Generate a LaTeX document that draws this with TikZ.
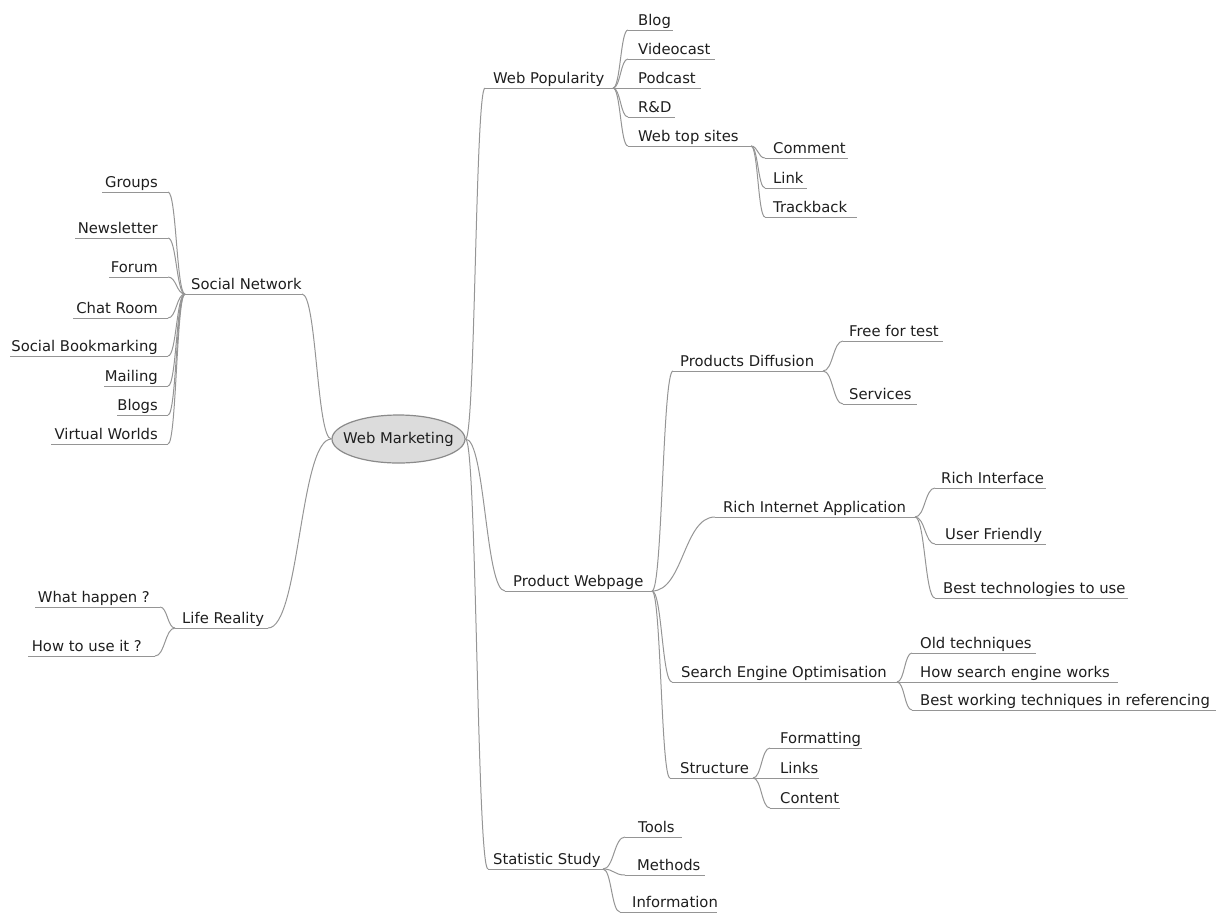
\documentclass[tikz,border=0pt]{standalone}
\usepackage{fontspec}
\setmainfont{DejaVu Sans}
\usetikzlibrary{shapes.geometric,calc}
\definecolor{linegray}{HTML}{959595}
\definecolor{txt}{HTML}{1E1E1E}
\definecolor{bubble}{HTML}{DCDCDC}
\definecolor{bubbleedge}{HTML}{8A8A8A}
\tikzset{
  lbl/.style={inner sep=0pt, text=txt, font=\fontsize{14.8}{17}\selectfont},
  conn/.style={draw=linegray, line width=1pt},
  central/.style={ellipse, draw=bubbleedge, fill=bubble, line width=1.2pt,
     minimum width=133pt, minimum height=48pt, inner xsep=-25pt, inner ysep=0pt, text=txt,
     font=\fontsize{14.8}{17}\selectfont}
}
% right-growing node: name, text, text-left x, underline y, underline left, underline right
\newcommand\mmR[6]{%
  \node[lbl,anchor=base west] (#1) at (#3,#4-5) {#2};
  \coordinate (#1-l) at (#5,#4);
  \coordinate (#1-r) at (#6,#4);
  \draw[conn] (#1-l) -- (#1-r);}
% left-growing node: name, text, text-right x, underline y, underline left, underline right
\newcommand\mmL[6]{%
  \node[lbl,anchor=base east] (#1) at (#3,#4-5) {#2};
  \coordinate (#1-l) at (#5,#4);
  \coordinate (#1-r) at (#6,#4);
  \draw[conn] (#1-l) -- (#1-r);}
\newcommand\mlink[2]{%
  \draw[conn] let \p1=(#1), \p2=(#2), \n1={(\x2-\x1)/2}, \n2={-(\x2-\x1)/2} in
    (#1) .. controls +(\n1,0) and +(\n2,0) .. (#2);}
\begin{document}
\begin{tikzpicture}[x=1pt,y=-1pt]
\useasboundingbox (0,0) rectangle (1230,914);
\node[central] (wm) at (398.5,439) {Web Marketing};

% Web Popularity
\mmR{wp}{Web Popularity}{493}{88}{485}{613}
\mmR{blog}{Blog}{638}{30}{628}{673}
\mmR{video}{Videocast}{638}{59}{628}{715}
\mmR{pod}{Podcast}{638}{88}{628}{701}
\mmR{rd}{R\&D}{638}{117}{628}{675}
\mmR{wts}{Web top sites}{638}{146}{628}{751}
\mmR{com}{Comment}{773}{158}{765}{848}
\mmR{lnk}{Link}{773}{188}{765}{807}
\mmR{trk}{Trackback}{773}{217}{765}{857}

% Social Network
\mmR{sn}{Social Network}{191}{294}{185}{302}
\mmL{grp}{Groups}{158}{192}{102}{168}
\mmL{news}{Newsletter}{158}{238}{75}{168}
\mmL{forum}{Forum}{158}{277}{109}{168}
\mmL{chat}{Chat Room}{158}{318}{73}{168}
\mmL{sbm}{Social Bookmarking}{158}{356}{10}{168}
\mmL{mail}{Mailing}{158}{386}{104}{168}
\mmL{blogs}{Blogs}{158}{415}{117}{168}
\mmL{vw}{Virtual Worlds}{158}{444}{51}{168}

% Life Reality
\mmR{lr}{Life Reality}{182}{628}{175}{268}
\mmL{wh}{What happen ?}{150}{607}{35}{160}
\mmL{hu}{How to use it ?}{142}{656}{28}{155}

% Product Webpage
\mmR{pw}{Product Webpage}{513}{591}{505}{652}
\mmR{pd}{Products Diffusion}{680}{371}{673}{823}
\mmR{fft}{Free for test}{849}{341}{843}{943}
\mmR{serv}{Services}{849}{404}{843}{917}
\mmR{ria}{Rich Internet Application}{723}{517}{715}{915}
\mmR{ri}{Rich Interface}{941}{488}{935}{1046}
\mmR{uf}{User Friendly}{945}{544}{935}{1046}
\mmR{bt}{Best technologies to use}{943}{598}{935}{1128}
\mmR{seo}{Search Engine Optimisation}{681}{682}{672}{897}
\mmR{ot}{Old techniques}{920}{653}{912}{1036}
\mmR{hs}{How search engine works}{920}{682}{912}{1118}
\mmR{bw}{Best working techniques in referencing}{920}{710}{912}{1216}
\mmR{str}{Structure}{680}{778}{670}{753}
\mmR{fmt}{Formatting}{780}{748}{770}{862}
\mmR{lks}{Links}{780}{778}{770}{819}
\mmR{cnt}{Content}{780}{808}{770}{840}

% Statistic Study
\mmR{ss}{Statistic Study}{493}{869}{488}{603}
\mmR{tools}{Tools}{638}{837}{625}{682}
\mmR{meth}{Methods}{637}{875}{625}{705}
\mmR{info}{Information}{632}{912}{620}{717}

% connectors
\mlink{wm.east}{wp-l}
\mlink{wm.east}{pw-l}
\mlink{wm.east}{ss-l}
\mlink{wm.west}{sn-r}
\mlink{wm.west}{lr-r}
\foreach \c in {blog,video,pod,rd,wts} {\mlink{wp-r}{\c-l}}
\foreach \c in {com,lnk,trk} {\mlink{wts-r}{\c-l}}
\foreach \c in {grp,news,forum,chat,sbm,mail,blogs,vw} {\mlink{sn-l}{\c-r}}
\foreach \c in {wh,hu} {\mlink{lr-l}{\c-r}}
\foreach \c in {pd,ria,seo,str} {\mlink{pw-r}{\c-l}}
\foreach \c in {fft,serv} {\mlink{pd-r}{\c-l}}
\foreach \c in {ri,uf,bt} {\mlink{ria-r}{\c-l}}
\foreach \c in {ot,hs,bw} {\mlink{seo-r}{\c-l}}
\foreach \c in {fmt,lks,cnt} {\mlink{str-r}{\c-l}}
\foreach \c in {tools,meth,info} {\mlink{ss-r}{\c-l}}
\end{tikzpicture}
\end{document}
